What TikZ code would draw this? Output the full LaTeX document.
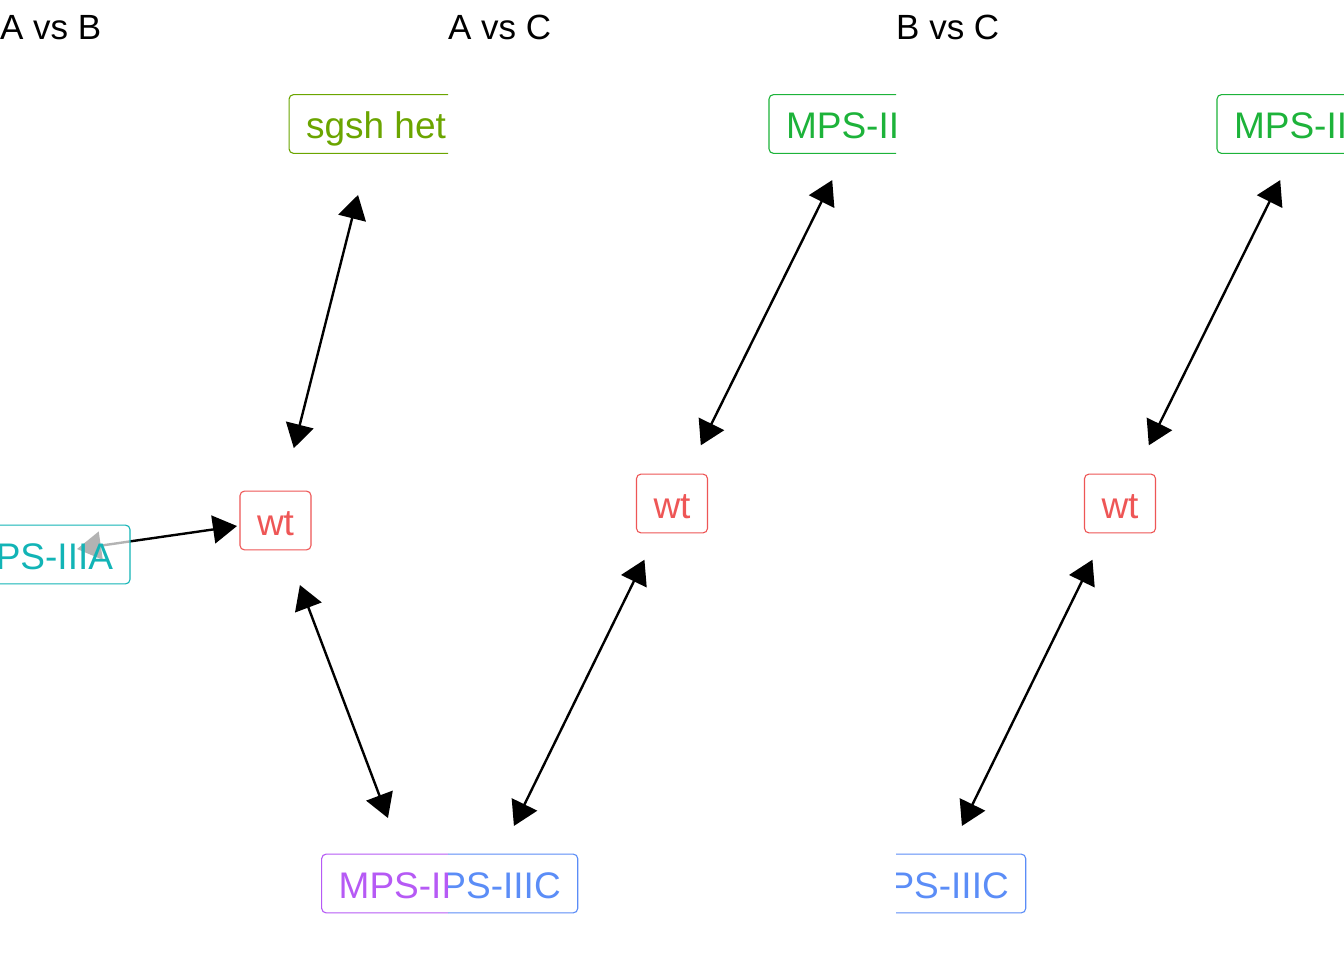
\documentclass[tikz,border=0pt]{standalone}
\usepackage{fontspec}
\setmainfont{Liberation Sans}
\usetikzlibrary{arrows.meta}
\definecolor{cwt}{HTML}{EE5656}
\definecolor{csg}{HTML}{6BA500}
\definecolor{cgr}{HTML}{1DB33A}
\definecolor{cte}{HTML}{12B4B6}
\definecolor{cbl}{HTML}{5B8DF7}
\definecolor{cpu}{HTML}{B65AF5}
\pgfdeclarelayer{bg}
\pgfsetlayers{bg,main}
\begin{document}
\begin{tikzpicture}[x=1pt,y=-1pt,
  lab/.style={draw=#1, text=#1, rounded corners=4.5pt, line width=1.1pt,
    fill=white, fill opacity=0.7, draw opacity=1, text opacity=1,
    inner xsep=17pt, inner ysep=14.6pt, text height=29.6pt, text depth=0pt,
    font=\fontsize{37}{42}\selectfont},
  edge/.style={line width=2.4pt, {Triangle[length=24pt,width=28pt]}-{Triangle[length=24pt,width=28pt]}},
  ttl/.style={anchor=base west, inner sep=0pt, font=\fontsize{35}{40}\selectfont}]
\useasboundingbox (0,0) rectangle (1344,960);
% ---------- panel 1 ----------
\begin{scope}
  \clip (0,0) rectangle (448,960);
  \node[ttl] (t1) at (0,40) {A vs B};
  \node[lab=cwt] (wt1) at (275.5,520.5) {wt};
  \node[lab=csg] (sg) at (376,124) {sgsh het};
  \node[lab=cte] (ma) at (39,554.5) {MPS-IIIA};
  \node[lab=cpu] (mb) at (412.7,883.5) {MPS-IIIB};
\end{scope}
\begin{pgfonlayer}{bg}
  \fill[white] (0,0) rectangle (1344,960);
  \draw[edge, shorten <=74.6pt, shorten >=73.2pt] (wt1.center) -- (sg.center);
  \draw[edge, shorten <=38.9pt, shorten >=38.4pt] (wt1.center) -- (ma.center);
  \draw[edge, shorten <=69pt, shorten >=70pt] (wt1.center) -- (mb.center);
\end{pgfonlayer}
% ---------- panel 2 ----------
\begin{scope}
  \clip (448,0) rectangle (896,960);
  \node[ttl] (t2) at (448,40) {A vs C};
  \node[lab=cwt] (wt2) at (672,503.5) {wt};
  \node[lab=cgr] (ga) at (860,124) {MPS-IIIA};
  \node[lab=cbl] (mc2) at (485.7,883.5) {MPS-IIIC};
\end{scope}
\begin{pgfonlayer}{bg}
  \draw[edge, shorten <=64.9pt, shorten >=62.6pt] (wt2.center) -- (ga.center);
  \draw[edge, shorten <=62.6pt, shorten >=64.1pt] (wt2.center) -- (mc2.center);
\end{pgfonlayer}
% ---------- panel 3 ----------
\begin{scope}
  \clip (896,0) rectangle (1344,960);
  \node[ttl] (t3) at (896,40) {B vs C};
  \node[lab=cwt] (wt3) at (1120,503.5) {wt};
  \node[lab=cgr] (gb) at (1308,124) {MPS-IIIB};
  \node[lab=cbl] (mc3) at (933.7,883.5) {MPS-IIIC};
\end{scope}
\begin{pgfonlayer}{bg}
  \draw[edge, shorten <=64.9pt, shorten >=62.6pt] (wt3.center) -- (gb.center);
  \draw[edge, shorten <=62.6pt, shorten >=64.1pt] (wt3.center) -- (mc3.center);
\end{pgfonlayer}
\end{tikzpicture}
\end{document}
